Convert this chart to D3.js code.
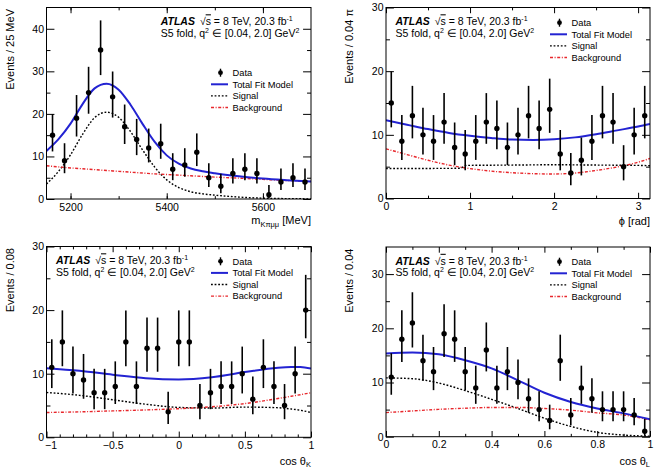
<!DOCTYPE html>
<html>
<head>
<meta charset="utf-8">
<script src="https://cdn.jsdelivr.net/npm/d3@7"></script>
<style>
  body { margin: 0; background: #fff; }
  svg { display: block; }
  text { font-family: "Liberation Sans", Arial, Helvetica, sans-serif; fill: #000; }
</style>
</head>
<body>
<div id="chart"></div>
<script>
// ---- data ----
// event counts per bin
var massCounts = [15, 9, 19, 25, 35, 24, 17, 14, 12, 13, 7, 8, 11, 5, 3, 6, 7, 6, 1, 4, 5, 4];
var phiCounts  = [15, 9, 13, 10, 9, 12, 8, 7, 9, 12, 11, 8, 10, 13, 11, 14, 7, 4, 6, 9, 13, 12, 5, 10, 13];
var cosKCounts = [11, 15, 10, 9, 7, 7, 8, 15, 8, 14, 14, 4, 15, 15, 5, 7, 8, 8, 10, 6, 11, 8, 5, 10, 20];
var cosLCounts = [11, 18, 21, 14, 12, 19, 18, 12, 9, 16, 9, 12, 10, 7, 5, 3, 14, 4, 9, 7, 5, 5, 5, 4, 1];

// fit model curves (sampled from the plot)
var massX   = [5150, 5175, 5200, 5225, 5250, 5275, 5300, 5325, 5350, 5375, 5400, 5425, 5450, 5475, 5500, 5550, 5600, 5650, 5700];
var massSig = [3.5, 6.5, 10.4, 15.2, 19.1, 20.4, 19.2, 15.8, 11.5, 7.5, 4.5, 2.7, 1.7, 1.2, 0.9, 0.45, 0.2, 0.08, 0.03];
var massBkg = [7.8, 7.55, 7.3, 7.1, 6.9, 6.7, 6.5, 6.3, 6.1, 5.9, 5.75, 5.6, 5.45, 5.3, 5.15, 4.9, 4.6, 4.35, 4.1];
var massTot = [11.3, 14.05, 17.7, 22.3, 26.0, 27.1, 25.7, 22.1, 17.6, 13.4, 10.25, 8.3, 7.15, 6.5, 6.05, 5.35, 4.8, 4.43, 4.13];

var phiX    = [0, 0.25, 0.5, 0.75, 1.0, 1.25, 1.5, 1.75, 2.0, 2.25, 2.5, 2.75, 3.0, 3.1416];
var phiTot  = [12.3, 11.6, 10.9, 10.3, 9.85, 9.5, 9.25, 9.2, 9.3, 9.6, 10.1, 10.7, 11.3, 11.7];
var phiBkg  = [7.8, 6.9, 6.0, 5.25, 4.7, 4.3, 4.05, 3.9, 3.85, 4.0, 4.4, 4.95, 5.7, 6.3];
var phiSigX = [0, 0.5, 0.88, 0.96, 1.5, 2.0, 2.5, 3.0, 3.1416];
var phiSig  = [4.7, 4.72, 4.75, 5.2, 5.25, 5.3, 5.25, 5.2, 5.15];

var cosKX   = [-1, -0.75, -0.5, -0.25, 0, 0.25, 0.5, 0.75, 0.85, 0.92, 1.0];
var cosKTot = [10.85, 10.45, 9.85, 9.3, 9.1, 9.45, 10.25, 10.95, 11.05, 11.05, 10.8];
var cosKSig = [7.05, 6.6, 5.9, 5.2, 4.7, 4.6, 4.75, 4.65, 4.45, 4.25, 3.9];
var cosKBkg = [3.9, 4.0, 4.15, 4.3, 4.5, 4.8, 5.3, 6.1, 6.45, 6.7, 7.0];

var cosLX   = [0, 0.1, 0.2, 0.3, 0.4, 0.5, 0.6, 0.7, 0.8, 0.9, 1.0];
var cosLTot = [15.35, 15.55, 15.2, 14.1, 12.6, 10.4, 8.1, 6.4, 5.2, 4.3, 3.2];
var cosLSig = [10.85, 10.7, 9.9, 8.5, 6.9, 5.2, 3.4, 1.9, 0.8, 0.3, 0.1];
var cosLBkg = [4.45, 4.75, 5.05, 5.25, 5.4, 5.4, 5.2, 4.9, 4.4, 4.0, 3.1];

// tick labels
var massTicks = [5200, 5400, 5600],  massMinor = [5200, 5300, 5400, 5500, 5600];
var phiTicks  = [0, 1, 2, 3],        phiMinor  = [0.5, 1.5, 2.5];
var cosKTicks = [-1, -0.5, 0, 0.5, 1], cosKMinor = [-0.9, -0.8, -0.7, -0.6, -0.4, -0.3, -0.2, -0.1, 0.1, 0.2, 0.3, 0.4, 0.6, 0.7, 0.8, 0.9];
var cosLTicks = [0, 0.2, 0.4, 0.6, 0.8, 1], cosLMinor = [0.1, 0.3, 0.5, 0.7, 0.9];
var yTicks30  = [0, 10, 20, 30], yTicks40 = [0, 10, 20, 30, 40];

var legendLabels = ["Data", "Total Fit Model", "Signal", "Background"];

// ---- drawing ----
var width = 655, height = 470;
var svg = d3.select("#chart").append("svg")
    .attr("width", width)
    .attr("height", height);

// 68% Poisson interval (Garwood, Wilson-Hilferty approximation)
function poissonLow(n) {
  if (n === 0) return 0;
  return n * Math.pow(1 - 1 / (9 * n) - 1 / (3 * Math.sqrt(n)), 3);
}
function poissonHigh(n) {
  var m = n + 1;
  return m * Math.pow(1 - 1 / (9 * m) + 1 / (3 * Math.sqrt(m)), 3);
}

var panels = [
  { left: 46.5, right: 311, top: 7.5, bottom: 199,
    xDomain: [5150, 5700], yDomain: [0, 45], counts: massCounts,
    curves: { x: massX, tot: massTot, sig: massSig, bkg: massBkg, sigX: massX },
    xTicks: massTicks, xMinor: massMinor, yTicks: yTicks40, yMinor: [5, 15, 25, 35],
    ytitle: "Events / 25 MeV", xtitle: "mass", xtitleY: 224,
    atlasX: 160.7, legendTop: 72.7 },
  { left: 386, right: 650, top: 7.5, bottom: 198.5,
    xDomain: [0, Math.PI], yDomain: [0, 30], counts: phiCounts,
    curves: { x: phiX, tot: phiTot, sig: phiSig, bkg: phiBkg, sigX: phiSigX },
    xTicks: phiTicks, xMinor: phiMinor, yTicks: yTicks30, yMinor: [5, 15, 25],
    ytitle: "Events / 0.04 π", xtitle: "phi", xtitleY: 224.5,
    atlasX: 395.5, legendTop: 22.7 },
  { left: 46.5, right: 311, top: 246.5, bottom: 437.3,
    xDomain: [-1, 1], yDomain: [0, 30], counts: cosKCounts,
    curves: { x: cosKX, tot: cosKTot, sig: cosKSig, bkg: cosKBkg, sigX: cosKX },
    xTicks: cosKTicks, xMinor: cosKMinor, yTicks: yTicks30, yMinor: [5, 15, 25],
    ytitle: "Events / 0.08", xtitle: "cosK", xtitleY: 464.5,
    atlasX: 56, legendTop: 261.3 },
  { left: 386, right: 650, top: 247, bottom: 436.7,
    xDomain: [0, 1], yDomain: [0, 35], counts: cosLCounts,
    curves: { x: cosLX, tot: cosLTot, sig: cosLSig, bkg: cosLBkg, sigX: cosLX },
    xTicks: cosLTicks, xMinor: cosLMinor, yTicks: yTicks30, yMinor: [5, 15, 25],
    ytitle: "Events / 0.04", xtitle: "cosL", xtitleY: 464.5,
    atlasX: 395.5, legendTop: 261.7 }
];

var blue = "#2323d2", red = "#e8262b";
var fmt = d3.format("~g");

panels.forEach(function(p, pi) {
  var x = d3.scaleLinear().domain(p.xDomain).range([p.left, p.right]);
  var y = d3.scaleLinear().domain(p.yDomain).range([p.bottom, p.top]);
  var g = svg.append("g");
  var fw = p.right - p.left, fh = p.bottom - p.top;

  var clipId = "clip" + pi;
  g.append("clipPath").attr("id", clipId)
    .append("rect")
      .attr("x", p.left).attr("y", p.top)
      .attr("width", fw).attr("height", fh);

  // fit curves
  function curve(xs, ys, color, w, dash) {
    var line = d3.line()
      .x(function(d, i) { return x(xs[i]); })
      .y(function(d) { return y(d); })
      .curve(d3.curveMonotoneX);
    g.append("path")
      .attr("clip-path", "url(#" + clipId + ")")
      .attr("d", line(ys))
      .attr("fill", "none")
      .attr("stroke", color)
      .attr("stroke-width", w)
      .attr("stroke-dasharray", dash);
  }
  curve(p.curves.sigX, p.curves.sig, "#000", 1.4, "1.8,1.8");
  curve(p.curves.x, p.curves.bkg, red, 1.4, "3,1.6,1,1.6");
  curve(p.curves.x, p.curves.tot, blue, 2, null);

  // data points with poisson error bars
  var n = p.counts.length;
  var bw = (p.xDomain[1] - p.xDomain[0]) / n;
  var pts = p.counts.map(function(c, i) {
    return { x: p.xDomain[0] + (i + 0.5) * bw, c: c };
  });
  g.selectAll(".err").data(pts).enter().append("line")
    .attr("x1", function(d) { return x(d.x); })
    .attr("x2", function(d) { return x(d.x); })
    .attr("y1", function(d) { return y(poissonLow(d.c)); })
    .attr("y2", function(d) { return y(poissonHigh(d.c)); })
    .attr("stroke", "#000")
    .attr("stroke-width", 1.6);
  g.selectAll(".pt").data(pts).enter().append("circle")
    .attr("cx", function(d) { return x(d.x); })
    .attr("cy", function(d) { return y(d.c); })
    .attr("r", 2.7)
    .attr("fill", "#000");

  // frame
  g.append("rect")
    .attr("x", p.left).attr("y", p.top)
    .attr("width", fw).attr("height", fh)
    .attr("fill", "none").attr("stroke", "#000").attr("stroke-width", 1);

  var xMaj = 0.03 * fh, yMaj = 0.03 * fw;

  // bottom axis + labels
  g.append("g")
    .attr("transform", "translate(0," + p.bottom + ")")
    .call(d3.axisBottom(x).tickValues(p.xTicks).tickSize(-xMaj).tickPadding(4.2).tickFormat(fmt))
    .call(function(a) {
      a.select(".domain").remove();
      a.selectAll("text").attr("font-size", 10.5).attr("font-family", null)
        // keep the leftmost negative label clear of the y-axis "0"
        .attr("dx", function(d) { return (d === p.xDomain[0] && d < 0) ? 4 : 0; });
    });
  g.append("g")
    .attr("transform", "translate(0," + p.bottom + ")")
    .call(d3.axisBottom(x).tickValues(p.xMinor).tickSize(-xMaj / 2).tickFormat(""))
    .call(function(a) { a.select(".domain").remove(); });
  // top axis
  g.append("g")
    .attr("transform", "translate(0," + p.top + ")")
    .call(d3.axisTop(x).tickValues(p.xTicks).tickSize(-xMaj).tickFormat(""))
    .call(function(a) { a.select(".domain").remove(); });
  g.append("g")
    .attr("transform", "translate(0," + p.top + ")")
    .call(d3.axisTop(x).tickValues(p.xMinor).tickSize(-xMaj / 2).tickFormat(""))
    .call(function(a) { a.select(".domain").remove(); });
  // left axis + labels
  g.append("g")
    .attr("transform", "translate(" + p.left + ",0)")
    .call(d3.axisLeft(y).tickValues(p.yTicks).tickSize(-yMaj).tickPadding(2.5).tickFormat(fmt))
    .call(function(a) { a.select(".domain").remove(); a.selectAll("text").attr("font-size", 10.5).attr("font-family", null); });
  g.append("g")
    .attr("transform", "translate(" + p.left + ",0)")
    .call(d3.axisLeft(y).tickValues(p.yMinor).tickSize(-yMaj / 2).tickFormat(""))
    .call(function(a) { a.select(".domain").remove(); });
  // right axis
  g.append("g")
    .attr("transform", "translate(" + p.right + ",0)")
    .call(d3.axisRight(y).tickValues(p.yTicks).tickSize(-yMaj).tickFormat(""))
    .call(function(a) { a.select(".domain").remove(); });
  g.append("g")
    .attr("transform", "translate(" + p.right + ",0)")
    .call(d3.axisRight(y).tickValues(p.yMinor).tickSize(-yMaj / 2).tickFormat(""))
    .call(function(a) { a.select(".domain").remove(); });
  g.selectAll(".tick line").attr("stroke", "#000").attr("stroke-width", 1);

  // y title
  g.append("text")
    .attr("transform", "translate(" + (p.left - 33) + "," + (p.top + 1.5) + ") rotate(-90)")
    .attr("text-anchor", "end")
    .attr("font-size", 11)
    .text(p.ytitle);

  // x title
  var xt = g.append("text")
    .attr("x", p.right).attr("y", p.xtitleY)
    .attr("text-anchor", "end")
    .attr("font-size", 11);
  if (p.xtitle === "mass") {
    xt.append("tspan").text("m");
    xt.append("tspan").attr("font-size", 7.5).attr("dy", 2.5).text("Kπμμ");
    xt.append("tspan").attr("dy", -2.5).text(" [MeV]");
  } else if (p.xtitle === "phi") {
    xt.text("ϕ [rad]");
  } else {
    xt.append("tspan").text("cos θ");
    xt.append("tspan").attr("font-size", 7.5).attr("dy", 2.5).text(p.xtitle === "cosK" ? "K" : "L");
  }

  // ATLAS label
  var base1 = p.top + 17.8, base2 = p.top + 29.3;
  var t1 = g.append("text").attr("x", p.atlasX).attr("y", base1).attr("font-size", 10.5);
  t1.append("tspan").attr("font-weight", "bold").attr("font-style", "italic").text("ATLAS");
  t1.append("tspan").attr("dx", 5).text("√");
  t1.append("tspan").attr("text-decoration", "overline").text("s");
  t1.append("tspan").text(" = 8 TeV, 20.3 fb");
  t1.append("tspan").attr("font-size", 7).attr("dy", -4).text("-1");
  var t2 = g.append("text").attr("x", p.atlasX).attr("y", base2).attr("font-size", 10.5);
  t2.append("tspan").text("S5 fold, q");
  t2.append("tspan").attr("font-size", 7).attr("dy", -4).text("2");
  t2.append("tspan").attr("dy", 4).text(" ∈ [0.04, 2.0] GeV");
  t2.append("tspan").attr("font-size", 7).attr("dy", -4).text("2");

  // legend
  var lx0 = p.right - 100, lx1 = p.right - 83, mx = p.right - 90.5, tx = p.right - 78.5;
  var rowH = 11.6;
  legendLabels.forEach(function(lbl, i) {
    var ly = p.legendTop + i * rowH;
    if (i === 0) {
      g.append("line").attr("x1", mx).attr("x2", mx).attr("y1", ly - 4).attr("y2", ly + 4)
        .attr("stroke", "#000").attr("stroke-width", 1.4);
      g.append("circle").attr("cx", mx).attr("cy", ly).attr("r", 2.4).attr("fill", "#000");
    } else {
      var col = i === 1 ? blue : (i === 2 ? "#000" : red);
      g.append("line").attr("x1", lx0).attr("x2", lx1).attr("y1", ly).attr("y2", ly)
        .attr("stroke", col)
        .attr("stroke-width", i === 1 ? 2 : 1.4)
        .attr("stroke-dasharray", i === 2 ? "1.8,1.8" : (i === 3 ? "3,1.6,1,1.6" : null));
    }
    g.append("text").attr("x", tx).attr("y", ly).attr("dy", "0.35em")
      .attr("font-size", 9.3).text(lbl);
  });
});
</script>
</body>
</html>
